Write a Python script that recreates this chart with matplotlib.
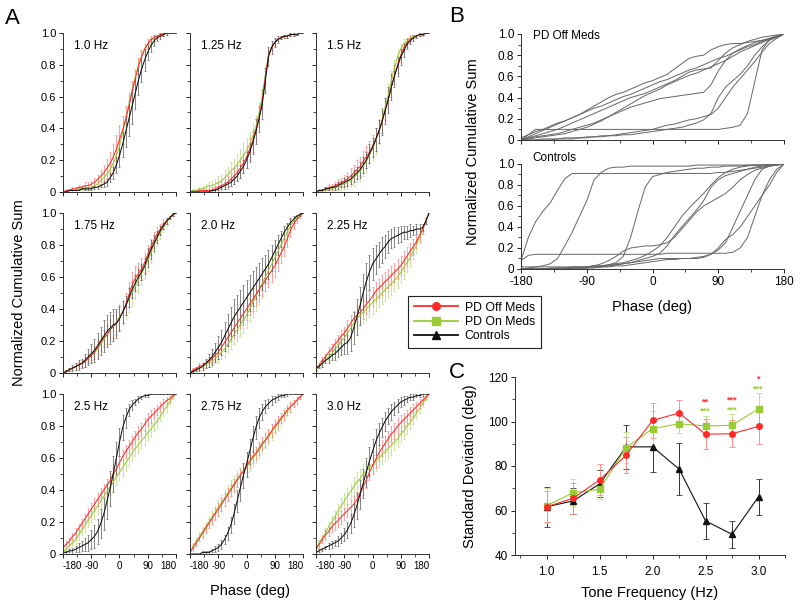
"""Phase distributions (A), single-subject examples (B) and SD vs tone frequency (C)"""
import matplotlib
matplotlib.use("Agg")
import numpy as np
import matplotlib.pyplot as plt
from matplotlib.ticker import MultipleLocator
from matplotlib.lines import Line2D

plt.rcParams["font.family"] = ["Liberation Sans", "DejaVu Sans"]

RED = "#ff2a2a"
RED_LIGHT = "#ff8a8a"
GREEN = "#99cc33"
GREEN_LIGHT = "#bde08a"
BLACK = "#111111"
GREY = "#666666"

# ---- Panel A: mean normalized cumulative sums (percent), phase -180..180 step 10 ----
PHASE = list(range(-180, 181, 10))
FREQ_LABELS = ["1.0 Hz", "1.25 Hz", "1.5 Hz", "1.75 Hz", "2.0 Hz", "2.25 Hz",
               "2.5 Hz", "2.75 Hz", "3.0 Hz"]

OFF_CUM = [
    [0, 1, 1, 2, 2, 3, 3, 4, 4, 5, 6, 8, 10, 12, 15, 18, 22, 27, 33, 39, 46, 54, 63, 71, 79, 85, 90, 93, 96, 97, 98, 99, 99, 100, 100, 100, 100],
    [0, 0, 0, 1, 1, 1, 1, 1, 2, 3, 4, 5, 6, 8, 10, 12, 15, 18, 22, 27, 32, 39, 47, 57, 72, 86, 91, 94, 96, 97, 98, 98, 99, 99, 99, 100, 100],
    [0, 1, 1, 2, 3, 3, 4, 5, 6, 7, 8, 10, 12, 14, 16, 19, 22, 25, 29, 33, 38, 44, 51, 58, 66, 73, 80, 86, 91, 94, 96, 97, 98, 99, 99, 100, 100],
    [0, 1, 2, 3, 4, 5, 6, 7, 9, 11, 13, 16, 19, 22, 24, 27, 29, 31, 34, 38, 43, 49, 55, 59, 62, 65, 69, 74, 79, 83, 87, 90, 93, 95, 97, 99, 100],
    [0, 2, 3, 4, 5, 6, 7, 9, 11, 13, 16, 19, 22, 25, 28, 31, 34, 37, 40, 43, 46, 49, 52, 55, 58, 61, 64, 67, 71, 75, 79, 84, 89, 93, 96, 98, 100],
    [3, 5, 8, 10, 13, 15, 18, 20, 23, 25, 28, 31, 34, 36, 38, 40, 43, 45, 48, 51, 53, 55, 57, 59, 61, 63, 65, 67, 70, 73, 76, 79, 82, 86, 90, 95, 100],
    [4, 6, 8, 11, 13, 16, 19, 22, 25, 28, 31, 34, 37, 40, 43, 46, 50, 53, 57, 61, 64, 67, 70, 73, 76, 78, 81, 84, 86, 88, 90, 92, 94, 96, 97, 99, 100],
    [1, 4, 7, 10, 13, 16, 19, 22, 25, 28, 31, 34, 37, 40, 43, 46, 49, 52, 55, 58, 61, 63, 66, 69, 71, 74, 77, 80, 82, 85, 87, 90, 92, 94, 96, 98, 100],
    [3, 6, 9, 12, 14, 17, 19, 21, 23, 25, 27, 29, 31, 34, 38, 42, 46, 51, 55, 59, 63, 66, 69, 72, 75, 77, 80, 82, 84, 86, 88, 90, 92, 94, 96, 98, 100],
]
ON_CUM = [
    [0, 0, 1, 1, 1, 2, 2, 2, 3, 3, 4, 5, 7, 9, 11, 14, 18, 23, 29, 37, 46, 55, 64, 72, 79, 85, 89, 93, 95, 97, 98, 99, 99, 100, 100, 100, 100],
    [0, 1, 1, 2, 2, 3, 4, 4, 5, 6, 7, 9, 11, 13, 15, 17, 20, 23, 26, 30, 35, 41, 50, 60, 74, 86, 91, 94, 96, 97, 98, 98, 99, 99, 99, 100, 100],
    [0, 0, 1, 1, 2, 2, 3, 3, 4, 5, 6, 7, 9, 11, 13, 16, 19, 23, 27, 32, 38, 45, 53, 61, 70, 78, 85, 90, 93, 95, 97, 98, 98, 99, 99, 100, 100],
    [0, 1, 2, 3, 4, 5, 6, 7, 9, 11, 13, 15, 18, 21, 24, 27, 29, 32, 35, 38, 42, 46, 50, 54, 58, 62, 66, 70, 75, 80, 84, 88, 91, 94, 97, 99, 100],
    [0, 1, 2, 3, 4, 5, 6, 7, 9, 11, 13, 15, 18, 21, 24, 27, 30, 33, 36, 40, 44, 48, 52, 56, 60, 64, 68, 72, 76, 80, 84, 88, 92, 95, 97, 99, 100],
    [2, 4, 6, 8, 10, 12, 15, 17, 20, 22, 25, 28, 31, 34, 36, 38, 40, 42, 44, 46, 48, 50, 52, 54, 56, 58, 60, 63, 66, 69, 72, 76, 80, 85, 90, 95, 100],
    [1, 3, 5, 7, 9, 12, 15, 18, 21, 24, 27, 30, 33, 36, 39, 42, 45, 48, 51, 54, 57, 60, 63, 66, 68, 71, 73, 76, 78, 81, 83, 86, 89, 92, 95, 98, 100],
    [1, 5, 8, 11, 14, 17, 20, 23, 26, 29, 32, 35, 38, 41, 44, 47, 49, 52, 54, 57, 60, 62, 65, 68, 71, 73, 76, 79, 81, 84, 87, 89, 92, 94, 96, 98, 100],
    [3, 7, 10, 13, 17, 20, 23, 27, 30, 33, 36, 39, 42, 45, 47, 50, 52, 54, 56, 58, 60, 62, 64, 66, 68, 70, 72, 75, 77, 80, 82, 85, 88, 91, 94, 97, 100],
]
CTL_CUM = [
    [0, 0, 1, 1, 1, 1, 2, 2, 2, 2, 3, 3, 4, 5, 6, 9, 12, 17, 23, 30, 38, 46, 54, 62, 70, 77, 83, 88, 92, 95, 97, 98, 99, 100, 100, 100, 100],
    [0, 0, 0, 0, 0, 0, 0, 1, 1, 2, 3, 4, 5, 6, 8, 10, 13, 16, 20, 25, 31, 38, 46, 55, 70, 85, 91, 94, 96, 97, 98, 98, 99, 99, 99, 100, 100],
    [0, 1, 1, 2, 2, 3, 3, 4, 5, 6, 7, 8, 10, 12, 14, 17, 20, 24, 28, 33, 38, 44, 51, 58, 66, 73, 79, 85, 89, 93, 95, 97, 98, 99, 99, 100, 100],
    [0, 1, 2, 3, 4, 5, 6, 8, 10, 12, 14, 17, 20, 23, 26, 28, 30, 31, 34, 38, 42, 47, 52, 56, 60, 63, 67, 72, 77, 81, 85, 89, 92, 95, 97, 99, 100],
    [0, 1, 2, 3, 4, 6, 8, 10, 13, 16, 19, 23, 27, 31, 35, 38, 41, 44, 47, 50, 53, 56, 59, 62, 65, 68, 72, 76, 80, 84, 88, 91, 94, 96, 98, 99, 100],
    [3, 4, 6, 8, 9, 11, 12, 14, 16, 18, 19, 22, 28, 35, 42, 50, 57, 63, 68, 71, 74, 77, 79, 82, 84, 85, 86, 87, 88, 88, 89, 89, 90, 90, 91, 95, 100],
    [1, 1, 2, 2, 3, 4, 5, 6, 7, 9, 11, 14, 19, 25, 33, 41, 50, 60, 70, 79, 85, 90, 93, 95, 97, 98, 99, 99, 100, 100, 100, 100, 100, 100, 100, 100, 100],
    [0, 0, 0, 0, 1, 1, 1, 2, 3, 4, 6, 9, 13, 18, 25, 33, 41, 49, 56, 64, 72, 79, 85, 89, 92, 94, 96, 97, 98, 99, 99, 100, 100, 100, 100, 100, 100],
    [1, 2, 3, 4, 5, 6, 7, 8, 10, 12, 15, 19, 24, 30, 37, 44, 51, 58, 64, 70, 75, 79, 83, 86, 89, 91, 93, 95, 96, 97, 98, 98, 99, 99, 100, 100, 100],
]

# standard errors (percent)
OFF_ERR = [
    [0, 0, 1, 1, 1, 1, 1, 2, 2, 2, 3, 3, 4, 5, 6, 7, 8, 9, 9, 9, 8, 8, 7, 6, 5, 4, 3, 3, 2, 2, 1, 1, 1, 1, 0, 0, 0],
    [0, 0, 1, 1, 1, 1, 2, 2, 2, 3, 3, 3, 4, 4, 5, 5, 6, 6, 7, 7, 7, 7, 6, 5, 4, 3, 2, 2, 1, 1, 1, 1, 1, 1, 0, 0, 0],
    [0, 1, 1, 1, 2, 2, 2, 3, 3, 4, 4, 5, 5, 6, 6, 7, 7, 7, 7, 7, 7, 7, 6, 6, 6, 5, 5, 4, 3, 3, 2, 2, 1, 1, 1, 0, 0],
    [0, 1, 1, 1, 2, 2, 2, 3, 3, 3, 4, 4, 5, 5, 6, 6, 7, 7, 7, 7, 7, 8, 8, 8, 7, 7, 6, 6, 5, 5, 4, 3, 3, 2, 1, 1, 0],
    [0, 1, 1, 2, 2, 2, 3, 3, 3, 4, 4, 5, 5, 5, 6, 6, 6, 7, 7, 7, 7, 7, 7, 7, 7, 7, 7, 7, 7, 6, 6, 5, 4, 3, 2, 1, 0],
    [1, 1, 2, 2, 3, 3, 3, 4, 4, 4, 5, 5, 5, 6, 6, 6, 6, 6, 6, 6, 6, 6, 6, 6, 6, 6, 6, 6, 6, 6, 5, 5, 4, 4, 3, 2, 0],
    [1, 2, 2, 2, 3, 3, 3, 3, 4, 4, 4, 4, 4, 4, 4, 4, 4, 4, 4, 4, 4, 4, 4, 4, 4, 4, 4, 4, 4, 3, 3, 3, 3, 2, 2, 1, 0],
    [1, 2, 2, 2, 3, 3, 3, 3, 4, 4, 4, 4, 4, 4, 4, 4, 4, 4, 4, 4, 4, 4, 4, 4, 4, 4, 4, 4, 4, 3, 3, 3, 3, 2, 2, 1, 0],
    [1, 2, 2, 3, 3, 3, 4, 4, 4, 4, 4, 5, 5, 5, 5, 5, 5, 5, 5, 5, 5, 5, 5, 5, 5, 5, 5, 5, 4, 4, 4, 4, 3, 3, 2, 1, 0],
]
ON_ERR = [
    [0, 0, 0, 1, 1, 1, 1, 1, 1, 2, 2, 2, 3, 3, 4, 5, 6, 6, 7, 7, 7, 6, 6, 5, 5, 4, 3, 3, 2, 2, 1, 1, 1, 0, 0, 0, 0],
    [0, 1, 1, 1, 2, 2, 2, 3, 3, 4, 4, 5, 5, 6, 6, 7, 7, 8, 8, 8, 8, 7, 6, 5, 4, 3, 2, 2, 1, 1, 1, 1, 1, 1, 0, 0, 0],
    [0, 0, 1, 1, 1, 2, 2, 2, 3, 3, 4, 4, 5, 5, 6, 6, 7, 7, 7, 8, 8, 8, 7, 7, 6, 5, 4, 3, 3, 2, 2, 1, 1, 1, 0, 0, 0],
    [0, 0, 1, 1, 1, 2, 2, 3, 3, 4, 4, 5, 5, 6, 6, 7, 7, 8, 8, 8, 8, 8, 8, 8, 8, 7, 7, 6, 6, 5, 4, 4, 3, 2, 1, 1, 0],
    [0, 1, 1, 1, 2, 2, 2, 3, 3, 4, 4, 5, 5, 6, 6, 7, 7, 8, 8, 8, 9, 9, 9, 9, 9, 8, 8, 8, 7, 7, 6, 5, 4, 3, 2, 1, 0],
    [1, 1, 2, 2, 2, 3, 3, 4, 4, 5, 5, 5, 6, 6, 6, 7, 7, 7, 7, 7, 7, 7, 7, 7, 7, 7, 7, 7, 7, 6, 6, 5, 5, 4, 3, 2, 0],
    [1, 1, 2, 2, 3, 3, 3, 4, 4, 4, 5, 5, 5, 5, 5, 5, 5, 5, 5, 5, 5, 5, 5, 5, 5, 5, 5, 5, 4, 4, 4, 3, 3, 3, 2, 1, 0],
    [1, 2, 2, 3, 3, 3, 4, 4, 4, 5, 5, 5, 5, 5, 5, 5, 5, 5, 5, 5, 5, 5, 5, 5, 5, 5, 5, 4, 4, 4, 4, 3, 3, 2, 2, 1, 0],
    [1, 2, 2, 3, 3, 4, 4, 4, 5, 5, 5, 5, 6, 6, 6, 6, 6, 6, 6, 6, 6, 6, 6, 6, 6, 5, 5, 5, 5, 5, 4, 4, 3, 3, 2, 1, 0],
]
CTL_ERR = [
    [0, 0, 0, 0, 0, 0, 0, 1, 1, 1, 1, 1, 1, 2, 2, 3, 4, 5, 7, 8, 10, 11, 11, 10, 9, 8, 7, 5, 4, 3, 2, 2, 1, 1, 0, 0, 0],
    [0, 0, 0, 0, 0, 1, 1, 1, 1, 1, 1, 2, 2, 2, 3, 3, 4, 4, 5, 6, 7, 8, 8, 9, 8, 6, 4, 3, 2, 1, 1, 1, 1, 1, 0, 0, 0],
    [0, 0, 1, 1, 1, 1, 2, 2, 2, 3, 3, 3, 4, 4, 5, 5, 5, 6, 6, 7, 7, 8, 8, 8, 8, 7, 6, 5, 4, 3, 2, 2, 1, 1, 0, 0, 0],
    [0, 1, 1, 2, 2, 3, 3, 4, 5, 6, 7, 8, 9, 10, 10, 10, 10, 9, 8, 7, 6, 6, 5, 5, 5, 5, 5, 6, 6, 5, 4, 3, 2, 2, 1, 1, 0],
    [0, 1, 1, 2, 2, 3, 4, 5, 6, 7, 8, 9, 10, 10, 11, 11, 11, 11, 11, 11, 11, 10, 10, 10, 9, 9, 8, 7, 6, 5, 4, 3, 3, 2, 1, 1, 0],
    [1, 1, 2, 2, 3, 3, 4, 4, 5, 6, 7, 8, 10, 11, 12, 12, 12, 11, 10, 9, 8, 8, 7, 7, 6, 6, 5, 5, 4, 4, 4, 3, 3, 3, 2, 2, 0],
    [1, 1, 1, 2, 2, 3, 3, 4, 5, 6, 7, 8, 9, 10, 11, 11, 11, 10, 9, 8, 6, 4, 3, 2, 2, 1, 1, 1, 0, 0, 0, 0, 0, 0, 0, 0, 0],
    [0, 0, 0, 0, 1, 1, 1, 1, 2, 2, 3, 3, 4, 5, 6, 7, 8, 8, 8, 8, 8, 7, 6, 5, 4, 3, 3, 2, 2, 1, 1, 1, 0, 0, 0, 0, 0],
    [1, 1, 1, 1, 2, 2, 2, 3, 3, 4, 5, 6, 7, 8, 9, 9, 9, 9, 8, 8, 7, 6, 6, 5, 5, 4, 4, 3, 3, 2, 2, 2, 1, 1, 1, 0, 0],
]

# ---- Panel B: individual subjects at one frequency (percent) ----
PD_OFF_SUBJ = [
    [0, 5, 10, 10, 10, 10, 10, 10, 10, 10, 10, 10, 10, 10, 10, 10, 10, 10, 10, 10, 10, 10, 10, 10, 10, 10, 10, 10, 11, 12, 14, 25, 55, 85, 95, 98, 100],
    [0, 0, 0, 0, 0, 1, 1, 1, 2, 2, 3, 3, 4, 4, 5, 5, 6, 7, 8, 9, 10, 11, 12, 14, 16, 19, 25, 40, 50, 56, 62, 70, 80, 88, 94, 97, 100],
    [0, 0, 0, 1, 1, 1, 2, 2, 2, 3, 3, 4, 4, 5, 6, 7, 8, 9, 10, 12, 14, 15, 17, 19, 20, 22, 24, 30, 40, 50, 58, 66, 74, 83, 91, 96, 100],
    [2, 5, 8, 10, 13, 16, 18, 21, 24, 27, 30, 32, 35, 38, 41, 43, 46, 49, 52, 55, 57, 60, 63, 66, 68, 71, 74, 77, 79, 82, 85, 88, 90, 93, 95, 98, 100],
    [0, 3, 6, 9, 12, 15, 18, 21, 24, 28, 32, 36, 40, 43, 45, 48, 51, 54, 56, 59, 62, 67, 72, 77, 79, 80, 85, 88, 90, 91, 91, 92, 93, 94, 95, 97, 100],
    [0, 2, 4, 6, 8, 10, 13, 16, 19, 22, 25, 28, 31, 34, 37, 40, 42, 44, 47, 50, 53, 56, 60, 64, 66, 67, 68, 75, 82, 87, 90, 93, 95, 97, 98, 99, 100],
    [1, 2, 3, 4, 5, 6, 8, 10, 12, 14, 16, 19, 22, 25, 28, 31, 33, 35, 37, 39, 40, 41, 42, 43, 44, 45, 52, 65, 75, 82, 86, 89, 92, 94, 96, 98, 100],
    [0, 1, 2, 3, 4, 5, 6, 8, 10, 12, 15, 18, 22, 26, 30, 34, 38, 42, 45, 48, 52, 55, 58, 61, 63, 66, 69, 72, 75, 79, 83, 86, 89, 92, 95, 98, 100],
]
CONTROL_SUBJ = [
    [8, 30, 45, 55, 63, 75, 86, 91, 91, 91, 91, 91, 91, 91, 91, 91, 91, 91, 91, 91, 91, 91, 91, 91, 91, 91, 91, 92, 92, 93, 94, 95, 96, 97, 98, 99, 100],
    [0, 1, 2, 3, 5, 10, 22, 35, 50, 65, 85, 92, 96, 97, 97, 98, 98, 98, 98, 98, 98, 98, 98, 98, 99, 99, 99, 99, 99, 99, 99, 99, 99, 99, 100, 100, 100],
    [8, 13, 14, 14, 14, 14, 14, 14, 14, 14, 14, 14, 14, 14, 14, 14, 14, 14, 14, 14, 15, 15, 15, 15, 15, 15, 15, 15, 15, 16, 20, 30, 50, 70, 85, 95, 100],
    [2, 2, 2, 2, 2, 2, 2, 2, 2, 2, 3, 3, 4, 6, 12, 30, 55, 78, 88, 90, 92, 93, 94, 95, 96, 96, 97, 97, 98, 98, 98, 99, 99, 99, 99, 100, 100],
    [0, 0, 0, 0, 1, 1, 1, 2, 2, 2, 3, 3, 4, 5, 6, 8, 10, 13, 17, 22, 30, 40, 50, 58, 65, 72, 80, 87, 92, 95, 97, 98, 99, 99, 99, 100, 100],
    [0, 0, 0, 0, 0, 0, 0, 1, 1, 1, 2, 2, 3, 4, 5, 6, 8, 10, 12, 15, 22, 32, 40, 48, 56, 65, 78, 85, 89, 91, 93, 95, 97, 98, 99, 100, 100],
    [0, 0, 0, 0, 0, 0, 0, 1, 1, 1, 1, 2, 2, 3, 3, 4, 5, 6, 7, 8, 9, 9, 10, 10, 11, 12, 14, 18, 25, 40, 55, 70, 85, 95, 98, 99, 100],
    [0, 0, 0, 0, 0, 1, 1, 1, 1, 1, 2, 2, 3, 4, 5, 6, 7, 8, 9, 10, 10, 10, 10, 10, 10, 11, 14, 20, 28, 33, 40, 50, 60, 70, 80, 92, 100],
    [0, 0, 0, 0, 0, 0, 0, 1, 1, 2, 3, 5, 8, 12, 17, 20, 21, 22, 22, 23, 25, 30, 38, 46, 54, 60, 64, 68, 72, 78, 85, 90, 94, 96, 98, 99, 100],
]

# ---- Panel C: standard deviation of phase ----
TONE_HZ = [1.0, 1.25, 1.5, 1.75, 2.0, 2.25, 2.5, 2.75, 3.0]
SD_OFF = [61.7, 65.5, 73.8, 84.9, 100.5, 103.8, 94.3, 94.5, 97.8]
SD_OFF_ERR = [7, 7, 7, 8, 8, 6, 6.6, 6, 8]
SD_ON = [62.2, 68.0, 69.5, 88.3, 96.8, 99.0, 98.0, 98.3, 105.7]
SD_ON_ERR = [8, 6, 4.5, 7, 8, 4, 4.5, 5, 7]
SD_CTL = [61.7, 64.3, 72.0, 88.6, 88.6, 78.6, 55.3, 49.3, 66.2]
SD_CTL_ERR = [9, 6, 6, 10, 11.5, 11.7, 8, 6, 8]
SIG_FREQ = [2.5, 2.75, 3.0]
SIG_OFF = ["**", "***", "*"]
SIG_ON = ["***", "***", "***"]

for name, block in [("OFF_CUM", OFF_CUM), ("ON_CUM", ON_CUM), ("CTL_CUM", CTL_CUM),
                    ("OFF_ERR", OFF_ERR), ("ON_ERR", ON_ERR), ("CTL_ERR", CTL_ERR),
                    ("PD_OFF_SUBJ", PD_OFF_SUBJ), ("CONTROL_SUBJ", CONTROL_SUBJ)]:
    for i, row in enumerate(block):
        if len(row) != len(PHASE):
            raise ValueError(f"{name}[{i}] has {len(row)} values")


def _px_axes(fig, x0, y0, x1, y1):
    """axes from pixel box (top-left origin) on the 800x608 canvas"""
    W, H = 800, 608
    return fig.add_axes([x0 / W, 1 - y1 / H, (x1 - x0) / W, (y1 - y0) / H])


def _style(ax, fs=8):
    for s in ("top", "right"):
        ax.spines[s].set_visible(False)
    for s in ("left", "bottom"):
        ax.spines[s].set_linewidth(0.7)
        ax.spines[s].set_color("#333")
    ax.tick_params(which="major", direction="out", length=3, width=0.6, labelsize=fs, pad=2)
    ax.tick_params(which="minor", direction="out", length=2, width=0.5)


def _ylabels(ax):
    ax.set_yticklabels(["0" if abs(v) < 1e-9 else f"{v:.1f}" for v in ax.get_yticks()])


fig = plt.figure(figsize=(8.0, 6.08), dpi=100, facecolor="white")

# --- Panel A ---
col_x = [63, 190, 316]
row_y = [(33, 192), (213, 373), (394, 554)]
phase = np.array(PHASE)
for k in range(9):
    r, c = divmod(k, 3)
    ax = _px_axes(fig, col_x[c], row_y[r][0], col_x[c] + 113, row_y[r][1])
    _style(ax)
    for cum, err, col, ecol in [(ON_CUM, ON_ERR, GREEN, GREEN_LIGHT),
                                (OFF_CUM, OFF_ERR, RED, RED_LIGHT),
                                (CTL_CUM, CTL_ERR, BLACK, "#666666")]:
        ax.errorbar(phase, np.array(cum[k]) / 100, yerr=np.array(err[k]) / 100,
                    color=col, ecolor=ecol, lw=0.75, elinewidth=0.55, capsize=1.0,
                    capthick=0.5)
    ax.set_xlim(-180, 180)
    ax.set_ylim(0, 1.0)
    ax.xaxis.set_major_locator(MultipleLocator(90))
    ax.xaxis.set_minor_locator(MultipleLocator(45))
    ax.yaxis.set_major_locator(MultipleLocator(0.2))
    ax.yaxis.set_minor_locator(MultipleLocator(0.1))
    if c == 0:
        _ylabels(ax)
    else:
        ax.set_yticklabels([])
    if r == 2:
        ax.set_xticks([-180, -90, 0, 90, 180])
        labs = ax.set_xticklabels(["-180", "-90", "0", "90", "180"], fontsize=7)
        labs[0].set_horizontalalignment("left")
        labs[-1].set_horizontalalignment("right")
    else:
        ax.set_xticklabels([])
    ax.text(0.1, 0.92, FREQ_LABELS[k], transform=ax.transAxes, fontsize=8.5,
            ha="left", va="center")

fig.text(0.024, 1 - 293 / 608, "Normalized Cumulative Sum", rotation=90,
         ha="center", va="center", fontsize=10.5)
fig.text(250 / 800, 1 - 591 / 608, "Phase (deg)", ha="center", va="center", fontsize=10.5)
fig.text(12 / 800, 1 - 18 / 608, "A", ha="center", va="center", fontsize=16)

# --- Panel B ---
axb1 = _px_axes(fig, 521, 34, 784, 140)
axb2 = _px_axes(fig, 521, 164, 784, 269)
for ax, curves, label, ly in [(axb1, PD_OFF_SUBJ, "PD Off Meds", 0.98),
                              (axb2, CONTROL_SUBJ, "Controls", 1.06)]:
    _style(ax, fs=8.5)
    for cur in curves:
        ax.plot(phase, np.array(cur) / 100, color=GREY, lw=0.7)
    ax.set_xlim(-180, 180)
    ax.set_ylim(0, 1.0)
    ax.xaxis.set_major_locator(MultipleLocator(90))
    ax.xaxis.set_minor_locator(MultipleLocator(45))
    ax.yaxis.set_major_locator(MultipleLocator(0.2))
    ax.yaxis.set_minor_locator(MultipleLocator(0.1))
    _ylabels(ax)
    ax.text(0.045, ly, label, transform=ax.transAxes, fontsize=8.5, ha="left", va="center")
axb1.set_xticklabels([])
axb2.set_xticks([-180, -90, 0, 90, 180])
axb2.set_xticklabels(["-180", "-90", "0", "90", "180"])
fig.text(473 / 800, 1 - 152 / 608, "Normalized Cumulative Sum", rotation=90,
         ha="center", va="center", fontsize=10.5)
fig.text(652 / 800, 1 - 307 / 608, "Phase (deg)", ha="center", va="center", fontsize=10.5)
fig.text(457 / 800, 1 - 17 / 608, "B", ha="center", va="center", fontsize=16)

# --- Panel C ---
axc = _px_axes(fig, 515, 377, 785, 555)
_style(axc, fs=8.5)
axc.errorbar(TONE_HZ, SD_CTL, yerr=SD_CTL_ERR, color=BLACK, ecolor="#333333", lw=0.8,
             elinewidth=0.7, capsize=2.5, capthick=0.6, marker="^", ms=4.5)
axc.errorbar(TONE_HZ, SD_ON, yerr=SD_ON_ERR, color=GREEN, ecolor=GREEN_LIGHT, lw=0.8,
             elinewidth=0.7, capsize=2.5, capthick=0.6, marker="s", ms=4)
axc.errorbar(TONE_HZ, SD_OFF, yerr=SD_OFF_ERR, color=RED, ecolor=RED_LIGHT, lw=0.8,
             elinewidth=0.7, capsize=2.5, capthick=0.6, marker="o", ms=4)
for f, s_off, s_on in zip(SIG_FREQ, SIG_OFF, SIG_ON):
    i = TONE_HZ.index(f)
    top = max(SD_OFF[i] + SD_OFF_ERR[i], SD_ON[i] + SD_ON_ERR[i])
    axc.text(f, top + 2.0, s_on, color=GREEN, ha="center", va="center", fontsize=6.5,
             fontweight="bold")
    axc.text(f, top + 6.3, s_off, color=RED, ha="center", va="center", fontsize=6.5,
             fontweight="bold")
axc.set_xlim(0.7, 3.25)
axc.set_ylim(40, 120)
axc.yaxis.set_major_locator(MultipleLocator(20))
axc.yaxis.set_minor_locator(MultipleLocator(10))
axc.set_xticks([1.0, 1.5, 2.0, 2.5, 3.0])
axc.xaxis.set_minor_locator(MultipleLocator(0.25))
axc.set_xticklabels(["1.0", "1.5", "2.0", "2.5", "3.0"])
axc.tick_params(axis="x", pad=5)
axc.set_xlabel("Tone Frequency (Hz)", fontsize=10.5, labelpad=6)
axc.set_ylabel("Standard Deviation (deg)", fontsize=10.5, labelpad=8)
fig.text(457 / 800, 1 - 372 / 608, "C", ha="center", va="center", fontsize=16)

# --- legend (shared) ---
handles = [
    Line2D([], [], color=RED, marker="o", ms=5.5, lw=1.3),
    Line2D([], [], color=GREEN, marker="s", ms=5.5, lw=1.3),
    Line2D([], [], color=BLACK, marker="^", ms=5.5, lw=1.3),
]
leg = fig.legend(handles, ["PD Off Meds", "PD On Meds", "Controls"], loc="upper left",
                 bbox_to_anchor=(408 / 800, 1 - 296 / 608), fontsize=8.8, frameon=True,
                 fancybox=False, edgecolor="#222", framealpha=1, handlelength=3.6,
                 borderpad=0.45, labelspacing=0.2, handletextpad=0.6, borderaxespad=0)
leg.get_frame().set_linewidth(0.8)
leg.set_zorder(10)

fig.savefig("out.png", dpi=100, facecolor="white")
plt.close(fig)
